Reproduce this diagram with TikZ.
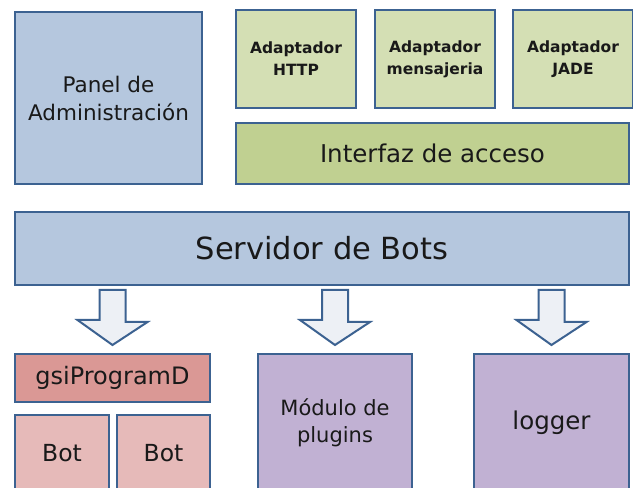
\documentclass[tikz,border=0pt]{standalone}
\usepackage{fontspec}
\setmainfont{DejaVu Sans}
\usetikzlibrary{positioning, calc}

\definecolor{borde}{RGB}{60,98,145}
\definecolor{azul}{RGB}{181,199,222}
\definecolor{verdeclaro}{RGB}{212,223,180}
\definecolor{verde}{RGB}{192,208,145}
\definecolor{rojo}{RGB}{218,152,149}
\definecolor{rosa}{RGB}{230,186,185}
\definecolor{lila}{RGB}{193,177,211}
\definecolor{flechafondo}{RGB}{237,240,245}

\begin{document}
\begin{tikzpicture}[
    x=1pt, y=1pt,
    caja/.style={draw=borde, line width=2pt, rectangle, anchor=north west, align=center, inner sep=0pt, text=black!90},
    panel/.style={caja, fill=azul, minimum width=187pt, minimum height=172pt, font=\fontsize{21.5}{28}\selectfont},
    adapt/.style={caja, fill=verdeclaro, minimum width=120pt, minimum height=98pt, font=\bfseries\fontsize{15.5}{22}\selectfont},
    interfaz/.style={caja, fill=verde, minimum width=393pt, minimum height=61pt, font=\fontsize{24.5}{28}\selectfont},
    servidor/.style={caja, fill=azul, minimum width=614pt, minimum height=73pt, font=\fontsize{30.5}{34}\selectfont},
    programa/.style={caja, fill=rojo, minimum width=195pt, minimum height=48pt, font=\fontsize{24}{28}\selectfont},
    bot/.style={caja, fill=rosa, minimum height=76pt, font=\fontsize{23.5}{28}\selectfont},
    modulo/.style={caja, fill=lila, minimum width=155pt, minimum height=137pt, font=\fontsize{21}{27}\selectfont},
    flecha/.style={draw=borde, line width=2pt, fill=flechafondo, line join=miter}
]

\clip (0,0) rectangle (633,488);
\fill[white] (0,0) rectangle (633,488);

% capa superior
\node[panel] (panel) at (14,477) {Panel de\\Administración};
\node[adapt] (http) at (235,479) {Adaptador\\HTTP};
\node[adapt, right=17pt of http.north east, anchor=north west] (msg) {Adaptador\\mensajeria};
\node[adapt, right=16pt of msg.north east, anchor=north west] (jade) {Adaptador\\JADE};
\node[interfaz] (acceso) at (235,366) {Interfaz de acceso};

% servidor
\node[servidor] (serv) at (14,277) {Servidor de Bots};

% capa inferior
\node[programa] (gsi) at (14,135) {gsiProgramD};
\node[bot, minimum width=94pt] (bota) at (14,74) {Bot};
\node[bot, minimum width=93pt] (botb) at (116,74) {Bot};
\node[modulo, minimum width=154pt] (mod) at (257,135) {Módulo de\\plugins};
\node[modulo, font=\fontsize{24.5}{28}\selectfont] (logger) at (473,135) {logger};

% flechas de bloque
\foreach \destino in {gsi, mod, logger} {
  \draw[flecha] ($(serv.south -| \destino.north)+(-13,-4)$) -- ++(26,0) -- ++(0,-32) -- ++(22,0)
    -- ($(\destino.north)+(0,8)$) -- ++(-35,25) -- ++(22,0) -- cycle;
}

\end{tikzpicture}
\end{document}
